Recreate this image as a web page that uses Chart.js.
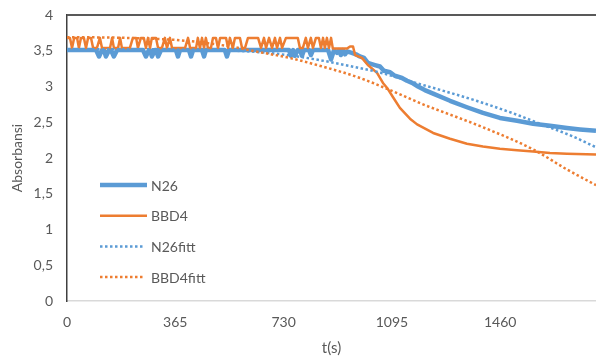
<!DOCTYPE html>
<html lang="id">
<head>
    <meta charset="UTF-8">
    <title>Absorbansi vs t(s)</title>
    <script src="https://cdn.jsdelivr.net/npm/chart.js"></script>
    <style>
        body { margin: 0; background: #fff; }
        #wrap { width: 596px; height: 358px; }
    </style>
</head>
<body>
<div id="wrap"><canvas id="grafik" width="596" height="358"></canvas></div>

<script>
    // data: [t (s), absorbansi]
    const seriesNames = ['N26', 'BBD4', 'N26fitt', 'BBD4fitt'];

    const n26 = [
        [0,3.51],[98,3.51],[108,3.42],[118,3.51],[125,3.51],[131,3.42],[142,3.51],[148,3.51],[158,3.42],[169,3.51],
        [256,3.51],[266,3.42],[276,3.51],[280,3.51],[286,3.42],[297,3.51],[300,3.51],[307,3.42],[317,3.51],
        [367,3.51],[374,3.42],[381,3.51],[411,3.51],[418,3.42],[425,3.51],[455,3.51],[462,3.42],[468,3.51],
        [532,3.51],[539,3.42],[546,3.51],[748,3.51],[755,3.43],[762,3.51],[768,3.43],[778,3.51],[785,3.51],
        [792,3.43],[799,3.51],[816,3.51],[822,3.44],[829,3.51],[880,3.51],[890,3.38],[900,3.51],[910,3.47],
        [917,3.51],[923,3.44],[930,3.51],[937,3.45],[944,3.49],[960,3.47],[974,3.45],[987,3.42],[1001,3.40],
        [1014,3.33],[1038,3.30],[1055,3.28],[1068,3.22],[1089,3.20],[1105,3.15],[1129,3.12],[1146,3.08],
        [1163,3.05],[1183,3.00],[1206,2.95],[1234,2.90],[1291,2.80],[1348,2.71],[1402,2.63],[1459,2.56],
        [1517,2.52],[1571,2.48],[1628,2.45],[1685,2.42],[1729,2.40],[1783,2.38]
    ];

    const bbd4 = [
        [0,3.68],[10,3.68],[17,3.54],[24,3.68],[34,3.68],[40,3.54],[47,3.68],[57,3.68],[64,3.54],[71,3.68],
        [81,3.68],[88,3.54],[101,3.54],[111,3.68],[118,3.54],[145,3.54],[152,3.68],[158,3.54],[172,3.54],
        [179,3.68],[185,3.54],[212,3.54],[222,3.68],[233,3.68],[239,3.54],[249,3.68],[259,3.68],[266,3.54],
        [273,3.68],[280,3.54],[286,3.68],[300,3.68],[307,3.54],[320,3.54],[330,3.68],[337,3.54],[347,3.68],
        [354,3.54],[398,3.54],[408,3.68],[415,3.54],[435,3.54],[441,3.68],[448,3.54],[455,3.68],[462,3.54],
        [468,3.68],[475,3.54],[485,3.54],[492,3.68],[502,3.68],[509,3.54],[516,3.68],[536,3.68],[543,3.54],
        [549,3.68],[559,3.54],[566,3.68],[583,3.68],[590,3.54],[600,3.54],[610,3.68],[644,3.68],[654,3.54],
        [664,3.68],[671,3.54],[681,3.68],[691,3.54],[701,3.68],[708,3.54],[718,3.68],[725,3.54],[738,3.68],
        [778,3.68],[785,3.54],[795,3.54],[805,3.68],[812,3.54],[822,3.68],[829,3.54],[839,3.68],[849,3.68],
        [856,3.54],[863,3.68],[869,3.54],[876,3.68],[883,3.54],[890,3.68],[896,3.53],[944,3.53],[954,3.56],
        [964,3.56],[971,3.44],[994,3.40],[1014,3.30],[1045,3.19],[1065,3.05],[1079,2.98],[1099,2.85],
        [1122,2.70],[1156,2.55],[1180,2.47],[1234,2.35],[1291,2.27],[1348,2.20],[1402,2.16],[1459,2.13],
        [1517,2.11],[1571,2.09],[1628,2.07],[1685,2.06],[1783,2.05]
    ];

    const n26Fitt = [
        [0,3.52],[250,3.52],[500,3.51],[650,3.48],[760,3.43],[850,3.37],[950,3.29],[1060,3.19],[1150,3.08],
        [1260,2.95],[1380,2.80],[1500,2.63],[1600,2.47],[1700,2.31],[1783,2.15]
    ];

    const bbd4Fitt = [
        [0,3.69],[200,3.68],[400,3.64],[550,3.56],[650,3.48],[750,3.40],[843,3.30],[980,3.13],[1089,2.95],
        [1200,2.75],[1315,2.57],[1402,2.43],[1571,2.12],[1685,1.84],[1783,1.62]
    ];

    const xTicks = [0, 365, 730, 1095, 1460];
    const yTicks = [0, 0.5, 1, 1.5, 2, 2.5, 3, 3.5, 4];

    const biru = '#5B9BD5';
    const oranye = '#ED7D31';
    const abu = '#595959';
    const fontName = 'Lato, "Open Sans", sans-serif';

    const toPts = arr => arr.map(p => ({ x: p[0], y: p[1] }));

    // legenda di dalam area plot (seperti Excel)
    const legendaDalam = {
        id: 'legendaDalam',
        afterDraw(chart) {
            const ctx = chart.ctx;
            ctx.save();
            chart.data.datasets.forEach((ds, i) => {
                const y = 185 + i * 30.7;
                ctx.beginPath();
                ctx.strokeStyle = ds.borderColor;
                ctx.lineWidth = ds.borderWidth;
                ctx.setLineDash(ds.borderDash || []);
                ctx.moveTo(100, y);
                ctx.lineTo(ds.borderDash ? 143 : 147, y);
                ctx.stroke();
                ctx.setLineDash([]);
                ctx.fillStyle = abu;
                ctx.font = '14px ' + fontName;
                ctx.textBaseline = 'middle';
                ctx.fillText(ds.label, 151, y + 1);
            });
            // garis atas
            const a = chart.chartArea;
            ctx.beginPath();
            ctx.strokeStyle = '#595959';
            ctx.lineWidth = 2;
            ctx.moveTo(a.left, a.top);
            ctx.lineTo(a.right, a.top);
            ctx.stroke();
            ctx.restore();
        }
    };

    new Chart(document.getElementById('grafik'), {
        type: 'line',
        data: {
            datasets: [
                { label: seriesNames[0], data: toPts(n26), borderColor: biru, borderWidth: 4.5, order: 4 },
                { label: seriesNames[1], data: toPts(bbd4), borderColor: oranye, borderWidth: 2.5, order: 3 },
                { label: seriesNames[2], data: toPts(n26Fitt), borderColor: biru, borderWidth: 2.5,
                  borderDash: [2.5, 2.5], cubicInterpolationMode: 'monotone', order: 2 },
                { label: seriesNames[3], data: toPts(bbd4Fitt), borderColor: oranye, borderWidth: 2.5,
                  borderDash: [2.5, 2.5], cubicInterpolationMode: 'monotone', order: 1 }
            ]
        },
        options: {
            responsive: false,
            animation: false,
            layout: { padding: { top: 15, right: 0, left: 0, bottom: 0 } },
            elements: { point: { radius: 0 }, line: { tension: 0, borderJoinStyle: 'round' } },
            plugins: { legend: { display: false }, tooltip: { enabled: false } },
            scales: {
                x: {
                    type: 'linear',
                    min: 0,
                    max: 1783,
                    afterBuildTicks: s => { s.ticks = xTicks.map(v => ({ value: v })); },
                    afterFit: s => { s.height = 57; s.paddingLeft = 0; s.paddingRight = 0; },
                    grid: { display: false, drawTicks: false },
                    border: { display: true, color: '#D9D9D9', width: 1.5 },
                    ticks: { color: abu, font: { family: fontName, size: 14 }, padding: 13, maxRotation: 0,
                             callback: v => String(v) },
                    title: { display: true, text: 't(s)', color: abu,
                             font: { family: fontName, size: 15 }, padding: { top: 0, bottom: 1 } }
                },
                y: {
                    min: 0,
                    max: 4,
                    afterBuildTicks: s => { s.ticks = yTicks.map(v => ({ value: v })); },
                    afterFit: s => { s.width = 67; s.paddingTop = 0; s.paddingBottom = 0; },
                    grid: { display: false, drawTicks: false },
                    border: { display: true, color: '#404040', width: 1.5 },
                    ticks: { color: abu, font: { family: fontName, size: 14 }, padding: 14,
                             callback: v => String(v).replace('.', ',') },
                    title: { display: true, text: 'Absorbansi', color: abu,
                             font: { family: fontName, size: 14 }, padding: { top: 9, bottom: 0 } }
                }
            }
        },
        plugins: [legendaDalam]
    });
</script>
</body>
</html>
